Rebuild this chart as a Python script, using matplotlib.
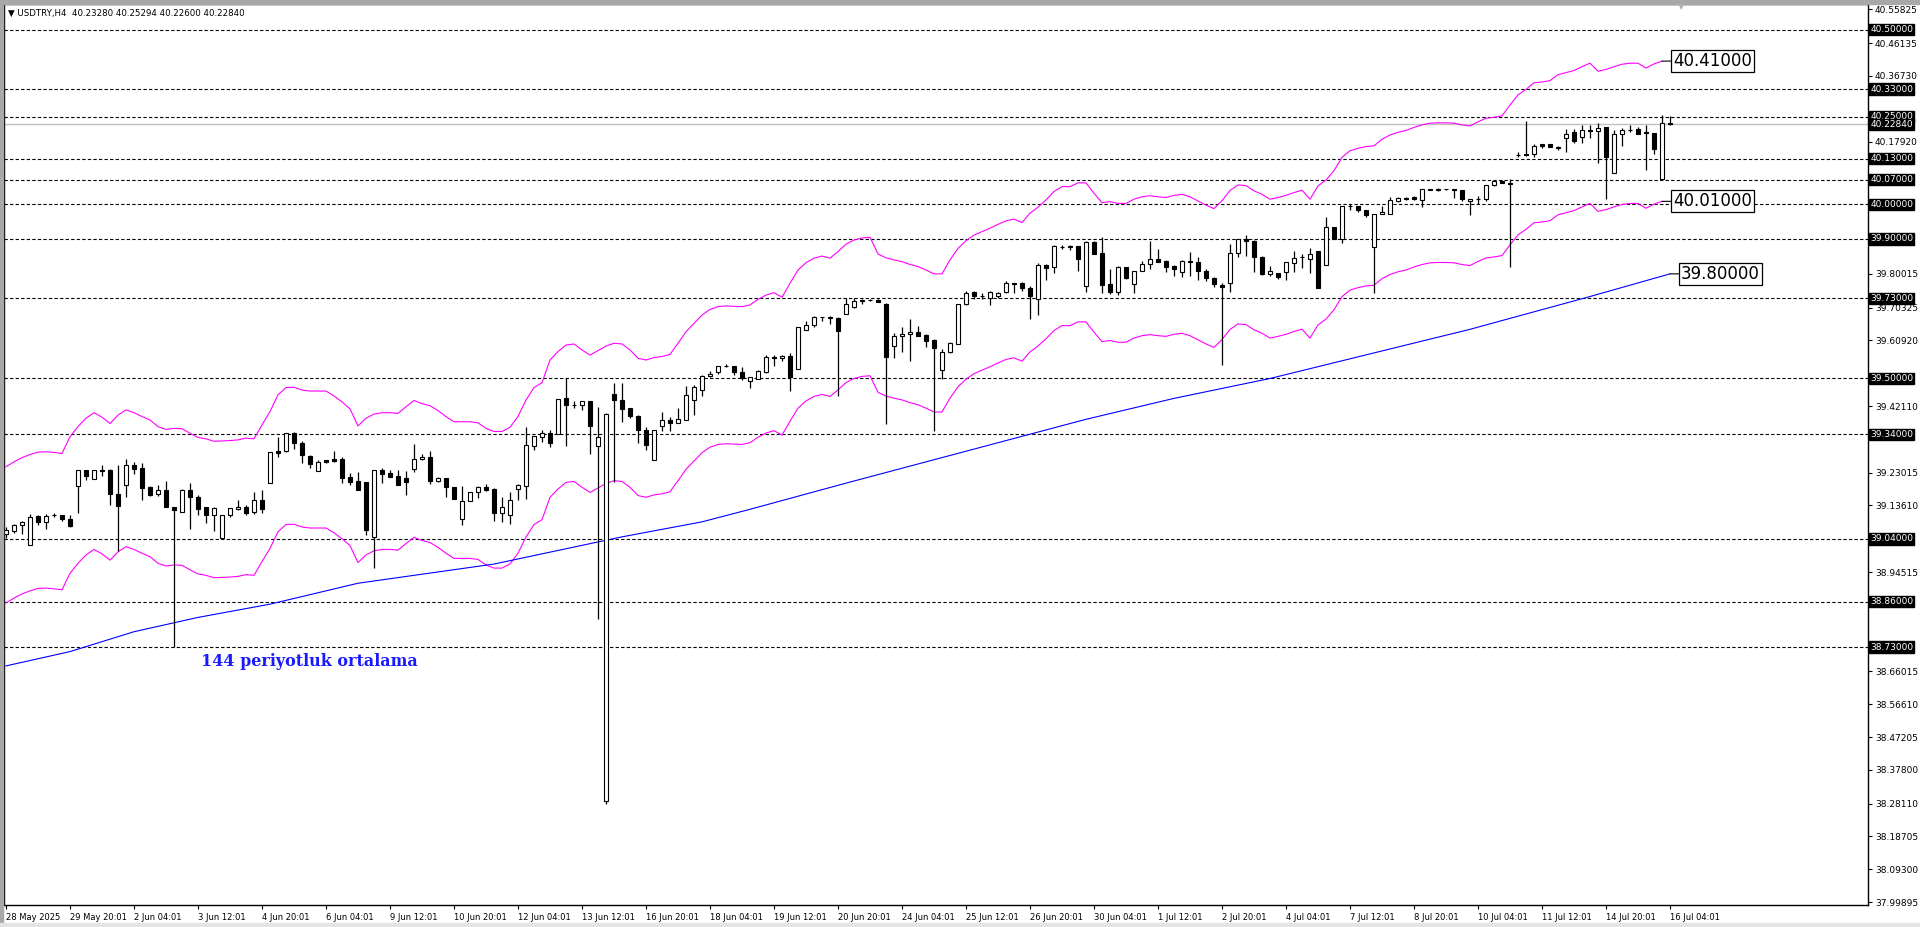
import matplotlib
matplotlib.use("Agg")
import matplotlib.pyplot as plt
from matplotlib.patches import Rectangle
from matplotlib.transforms import blended_transform_factory

# USDTRY H4 candles (bar 0 = 28 May 2025)
opens = [39.054, 39.064, 39.079, 39.022, 39.106, 39.090, 39.108, 39.108, 39.096, 39.191,
         39.237, 39.213, 39.239, 39.239, 39.169, 39.194, 39.251, 39.242, 39.189, 39.168,
         39.179, 39.131, 39.116, 39.180, 39.160, 39.131, 39.108, 39.044, 39.108, 39.127,
         39.131, 39.116, 39.151, 39.199, 39.291, 39.291, 39.343, 39.316, 39.278, 39.234,
         39.265, 39.268, 39.269, 39.217, 39.205, 39.203, 39.047, 39.237, 39.229, 39.220,
         39.214, 39.240, 39.268, 39.274, 39.205, 39.214, 39.188, 39.096, 39.148, 39.176,
         39.189, 39.183, 39.115, 39.108, 39.182, 39.193, 39.307, 39.333, 39.343, 39.340,
         39.444, 39.425, 39.423, 39.435, 39.307, 38.290, 39.456, 39.437, 39.414, 39.393,
         39.351, 39.265, 39.363, 39.380, 39.371, 39.381, 39.437, 39.466, 39.506, 39.518,
         39.535, 39.535, 39.518, 39.492, 39.498, 39.520, 39.562, 39.559, 39.564, 39.526,
         39.639, 39.652, 39.675, 39.676, 39.673, 39.684, 39.705, 39.725, 39.725, 39.725,
         39.715, 39.594, 39.622, 39.627, 39.633, 39.626, 39.610, 39.523, 39.577, 39.598,
         39.713, 39.747, 39.737, 39.730, 39.737, 39.747, 39.774, 39.773, 39.759, 39.727,
         39.826, 39.819, 39.878, 39.881, 39.879, 39.764, 39.891, 39.859, 39.770, 39.748,
         39.819, 39.770, 39.807, 39.827, 39.842, 39.837, 39.822, 39.804, 39.836, 39.833,
         39.808, 39.788, 39.767, 39.773, 39.859, 39.899, 39.894, 39.849, 39.801, 39.802,
         39.804, 39.832, 39.847, 39.844, 39.866, 39.824, 39.934, 39.901, 39.994, 39.994,
         39.984, 39.876, 39.971, 39.971, 40.010, 40.016, 40.020, 40.012, 40.042, 40.042,
         40.042, 40.042, 40.040, 40.008, 40.014, 40.016, 40.055, 40.067, 40.060, 40.142,
         40.143, 40.143, 40.171, 40.171, 40.165, 40.189, 40.206, 40.191, 40.212, 40.210,
         40.221, 40.088, 40.201, 40.212, 40.214, 40.206, 40.204, 40.073, 40.2328]
highs = [39.075, 39.082, 39.092, 39.111, 39.109, 39.111, 39.115, 39.109, 39.108, 39.239,
         39.239, 39.239, 39.253, 39.241, 39.252, 39.269, 39.260, 39.257, 39.192, 39.195,
         39.205, 39.131, 39.183, 39.199, 39.165, 39.132, 39.132, 39.109, 39.128, 39.152,
         39.136, 39.174, 39.180, 39.288, 39.333, 39.345, 39.346, 39.322, 39.280, 39.266,
         39.266, 39.292, 39.276, 39.228, 39.231, 39.203, 39.239, 39.242, 39.239, 39.239,
         39.234, 39.312, 39.283, 39.292, 39.217, 39.214, 39.188, 39.191, 39.176, 39.193,
         39.198, 39.185, 39.161, 39.176, 39.198, 39.360, 39.336, 39.352, 39.352, 39.440,
         39.500, 39.435, 39.435, 39.435, 39.417, 39.401, 39.486, 39.486, 39.414, 39.395,
         39.361, 39.351, 39.403, 39.389, 39.415, 39.479, 39.480, 39.510, 39.522, 39.536,
         39.541, 39.536, 39.533, 39.505, 39.524, 39.566, 39.566, 39.568, 39.572, 39.647,
         39.665, 39.679, 39.675, 39.679, 39.677, 39.731, 39.731, 39.727, 39.727, 39.727,
         39.717, 39.630, 39.649, 39.671, 39.651, 39.629, 39.613, 39.585, 39.604, 39.714,
         39.751, 39.751, 39.744, 39.751, 39.748, 39.780, 39.775, 39.776, 39.764, 39.832,
         39.827, 39.882, 39.884, 39.882, 39.880, 39.895, 39.893, 39.905, 39.815, 39.823,
         39.821, 39.807, 39.837, 39.894, 39.870, 39.839, 39.826, 39.840, 39.863, 39.847,
         39.813, 39.791, 39.774, 39.886, 39.901, 39.910, 39.896, 39.852, 39.823, 39.802,
         39.833, 39.866, 39.856, 39.874, 39.866, 39.962, 39.934, 39.994, 39.999, 39.994,
         39.984, 39.971, 39.995, 40.021, 40.020, 40.020, 40.022, 40.042, 40.044, 40.045,
         40.044, 40.044, 40.040, 40.016, 40.024, 40.056, 40.069, 40.068, 40.071, 40.149,
         40.239, 40.172, 40.171, 40.171, 40.168, 40.216, 40.216, 40.226, 40.226, 40.232,
         40.221, 40.212, 40.218, 40.227, 40.221, 40.227, 40.204, 40.255, 40.25294]
lows = [39.042, 39.058, 39.054, 39.022, 39.079, 39.069, 39.102, 39.092, 39.075, 39.115,
        39.210, 39.213, 39.221, 39.138, 39.006, 39.161, 39.227, 39.152, 39.164, 39.164,
        39.132, 38.730, 39.116, 39.069, 39.108, 39.087, 39.062, 39.042, 39.104, 39.123,
        39.109, 39.111, 39.113, 39.199, 39.276, 39.289, 39.297, 39.259, 39.243, 39.234,
        39.257, 39.261, 39.201, 39.196, 39.179, 39.050, 38.956, 39.201, 39.217, 39.195,
        39.165, 39.231, 39.266, 39.197, 39.203, 39.161, 39.155, 39.079, 39.148, 39.158,
        39.178, 39.091, 39.090, 39.084, 39.151, 39.155, 39.296, 39.319, 39.305, 39.340,
        39.307, 39.414, 39.410, 39.284, 38.810, 38.280, 39.204, 39.376, 39.386, 39.316,
        39.296, 39.265, 39.350, 39.350, 39.371, 39.380, 39.396, 39.451, 39.504, 39.513,
        39.532, 39.509, 39.495, 39.474, 39.498, 39.515, 39.536, 39.549, 39.465, 39.526,
        39.639, 39.649, 39.664, 39.655, 39.451, 39.684, 39.702, 39.714, 39.723, 39.718,
        39.370, 39.558, 39.577, 39.551, 39.623, 39.589, 39.350, 39.498, 39.574, 39.598,
        39.711, 39.729, 39.727, 39.712, 39.731, 39.746, 39.746, 39.750, 39.672, 39.683,
        39.781, 39.803, 39.872, 39.867, 39.809, 39.747, 39.858, 39.744, 39.741, 39.738,
        39.784, 39.744, 39.807, 39.815, 39.835, 39.806, 39.795, 39.790, 39.794, 39.783,
        39.780, 39.761, 39.538, 39.749, 39.849, 39.851, 39.806, 39.797, 39.795, 39.784,
        39.781, 39.805, 39.817, 39.803, 39.760, 39.824, 39.899, 39.888, 39.982, 39.977,
        39.964, 39.746, 39.971, 39.971, 40.006, 40.012, 40.012, 39.991, 40.039, 40.038,
        40.040, 40.017, 40.008, 39.968, 40.000, 40.008, 40.052, 40.060, 39.820, 40.134,
        40.138, 40.136, 40.161, 40.163, 40.155, 40.149, 40.176, 40.176, 40.189, 40.119,
        40.016, 40.088, 40.168, 40.206, 40.200, 40.098, 40.143, 40.073, 40.226]
closes = [39.066, 39.079, 39.088, 39.104, 39.089, 39.106, 39.108, 39.098, 39.077, 39.237,
          39.221, 39.237, 39.236, 39.170, 39.135, 39.251, 39.240, 39.187, 39.167, 39.179,
          39.132, 39.124, 39.180, 39.159, 39.127, 39.109, 39.128, 39.108, 39.128, 39.133,
          39.115, 39.151, 39.125, 39.288, 39.287, 39.343, 39.314, 39.280, 39.255, 39.262,
          39.260, 39.263, 39.216, 39.204, 39.179, 39.066, 39.237, 39.227, 39.218, 39.196,
          39.202, 39.268, 39.276, 39.205, 39.215, 39.190, 39.155, 39.148, 39.176, 39.188,
          39.181, 39.115, 39.133, 39.151, 39.194, 39.308, 39.335, 39.343, 39.316, 39.440,
          39.423, 39.425, 39.435, 39.363, 39.331, 39.398, 39.437, 39.413, 39.393, 39.353,
          39.310, 39.351, 39.380, 39.372, 39.383, 39.452, 39.475, 39.506, 39.512, 39.535,
          39.535, 39.518, 39.500, 39.503, 39.521, 39.561, 39.558, 39.565, 39.505, 39.647,
          39.652, 39.676, 39.675, 39.673, 39.635, 39.714, 39.722, 39.722, 39.725, 39.718,
          39.563, 39.622, 39.628, 39.634, 39.623, 39.608, 39.588, 39.577, 39.601, 39.714,
          39.744, 39.737, 39.737, 39.747, 39.746, 39.775, 39.772, 39.760, 39.737, 39.826,
          39.818, 39.881, 39.878, 39.876, 39.844, 39.891, 39.858, 39.769, 39.747, 39.820,
          39.789, 39.807, 39.827, 39.842, 39.835, 39.821, 39.815, 39.836, 39.833, 39.807,
          39.787, 39.772, 39.761, 39.859, 39.899, 39.895, 39.849, 39.800, 39.809, 39.790,
          39.833, 39.845, 39.847, 39.857, 39.760, 39.934, 39.899, 39.994, 39.994, 39.982,
          39.970, 39.971, 39.977, 40.012, 40.017, 40.016, 40.015, 40.042, 40.039, 40.039,
          40.042, 40.040, 40.014, 40.016, 40.014, 40.056, 40.066, 40.060, 40.057, 40.140,
          40.140, 40.168, 40.168, 40.163, 40.160, 40.202, 40.182, 40.212, 40.209, 40.217,
          40.136, 40.201, 40.212, 40.212, 40.202, 40.203, 40.157, 40.232, 40.2284]

# upper envelope (magenta), one value per bar; lower envelope is the same MA at -0.5 %
env_upper = [39.247, 39.261, 39.273, 39.282, 39.289, 39.290, 39.288, 39.285, 39.333, 39.362,
             39.386, 39.402, 39.389, 39.371, 39.395, 39.410, 39.402, 39.391, 39.381, 39.362,
             39.354, 39.357, 39.356, 39.343, 39.331, 39.327, 39.320, 39.321, 39.322, 39.324,
             39.329, 39.327, 39.367, 39.405, 39.453, 39.474, 39.475, 39.467, 39.464, 39.464,
             39.464, 39.450, 39.433, 39.413, 39.364, 39.386, 39.398, 39.402, 39.402, 39.400,
             39.419, 39.437, 39.428, 39.422, 39.408, 39.391, 39.376, 39.376, 39.376, 39.373,
             39.357, 39.348, 39.348, 39.360, 39.391, 39.438, 39.474, 39.488, 39.553, 39.577,
             39.596, 39.599, 39.582, 39.567, 39.580, 39.593, 39.601, 39.599, 39.582, 39.558,
             39.553, 39.560, 39.563, 39.569, 39.601, 39.634, 39.658, 39.682, 39.698, 39.706,
             39.708, 39.707, 39.706, 39.711, 39.727, 39.739, 39.746, 39.733, 39.773, 39.811,
             39.832, 39.845, 39.851, 39.845, 39.864, 39.885, 39.897, 39.903, 39.905, 39.857,
             39.846, 39.840, 39.835, 39.827, 39.821, 39.811, 39.800, 39.800, 39.840, 39.873,
             39.895, 39.911, 39.921, 39.931, 39.942, 39.952, 39.957, 39.947, 39.974, 39.991,
             40.012, 40.036, 40.050, 40.050, 40.061, 40.061, 40.031, 40.004, 40.007, 40.002,
             40.002, 40.014, 40.021, 40.024, 40.021, 40.019, 40.025, 40.028, 40.021, 40.009,
             39.997, 39.987, 40.010, 40.039, 40.055, 40.053, 40.038, 40.028, 40.014, 40.019,
             40.025, 40.033, 40.040, 40.014, 40.052, 40.069, 40.096, 40.134, 40.153, 40.160,
             40.165, 40.167, 40.186, 40.198, 40.206, 40.211, 40.220, 40.227, 40.232, 40.233,
             40.233, 40.232, 40.227, 40.224, 40.236, 40.246, 40.249, 40.253, 40.284, 40.313,
             40.329, 40.348, 40.350, 40.354, 40.371, 40.377, 40.383, 40.394, 40.404, 40.381,
             40.386, 40.394, 40.401, 40.404, 40.404, 40.390, 40.402, 40.410]
env_pct = 0.5

# 144 period moving average (blue), sampled at these bars
ma_bars = [0, 8, 16, 24, 33, 44, 61, 77, 87, 93, 105, 135, 146, 158, 183, 198, 208]
ma_vals = [38.676, 38.717, 38.774, 38.815, 38.853, 38.913, 38.968, 39.046, 39.089, 39.125,
           39.200, 39.383, 39.443, 39.500, 39.641, 39.735, 39.800]

levels = [40.50, 40.33, 40.25, 40.13, 40.07, 40.00, 39.90, 39.73, 39.50, 39.34, 39.04, 38.86, 38.73]
last_price = 40.2284

price_ticks = [40.55825, 40.46135, 40.36730, 40.17920, 39.80015, 39.70325, 39.60920, 39.42110,
               39.23015, 39.13610, 38.94515, 38.66015, 38.56610, 38.47205, 38.37800, 38.28110,
               38.18705, 38.09300, 37.99895]
time_labels = ['28 May 2025', '29 May 20:01', '2 Jun 04:01', '3 Jun 12:01', '4 Jun 20:01',
               '6 Jun 04:01', '9 Jun 12:01', '10 Jun 20:01', '12 Jun 04:01', '13 Jun 12:01',
               '16 Jun 20:01', '18 Jun 04:01', '19 Jun 12:01', '20 Jun 20:01', '24 Jun 04:01',
               '25 Jun 12:01', '26 Jun 20:01', '30 Jun 04:01', '1 Jul 12:01', '2 Jul 20:01',
               '4 Jul 04:01', '7 Jul 12:01', '8 Jul 20:01', '10 Jul 04:01', '11 Jul 12:01',
               '14 Jul 20:01', '16 Jul 04:01']

W, H = 1920, 927
fig = plt.figure(figsize=(W / 100, H / 100), dpi=100, facecolor='white')
ax = fig.add_axes([4 / W, 22 / H, 1864 / W, 901 / H])
ax.set_facecolor('white')

# thin grey window frame like the terminal
fig.patches.append(Rectangle((0, 1 - 4 / H), 1, 4 / H, transform=fig.transFigure, color='#a8a8a8', zorder=0))
fig.patches.append(Rectangle((0, 0), 3 / W, 1, transform=fig.transFigure, color='#a8a8a8', zorder=0))
fig.patches.append(Rectangle((0, 0), 1, 4 / H, transform=fig.transFigure, color='#e4e4e4', zorder=0))

idx = list(range(len(opens)))
body_low = [min(o, c) for o, c in zip(opens, closes)]
body_h = [max(abs(c - o), 0.0004) for o, c in zip(opens, closes)]
fills = ['white' if c >= o else 'black' for o, c in zip(opens, closes)]
ax.vlines(idx, lows, highs, color='black', linewidth=0.9, zorder=3)
ax.bar(idx, body_h, bottom=body_low, width=0.58, color=fills, edgecolor='black',
       linewidth=0.8, zorder=4)

# envelopes
env_idx = list(range(len(env_upper)))
env_lower = [u * (1 - env_pct / 100) / (1 + env_pct / 100) for u in env_upper]
ax.plot(env_idx, env_upper, color='#ff00ff', linewidth=0.8, zorder=2.6)
ax.plot(env_idx, env_lower, color='#ff00ff', linewidth=0.8, zorder=2.6)

# 144 MA
ax.plot(ma_bars, ma_vals, color='#0000ff', linewidth=0.8, zorder=2.6)

# horizontal levels
for lvl in levels:
    ax.axhline(lvl, color='black', linewidth=0.8, linestyle=(0, (3, 2)), zorder=2)
ax.axhline(last_price, color='#c0c0c0', linewidth=1.0, zorder=1.9)

ax.set_xlim(-0.25, 232.75)
ax.set_ylim(37.9905, 40.5737)

ax.yaxis.tick_right()
ax.set_yticks(price_ticks)
ax.set_yticklabels([f'{t:.5f}' for t in price_ticks])
ax.tick_params(axis='y', direction='out', length=3, width=0.8, labelsize=6.5, pad=2)
ax.set_xticks(list(range(0, 8 * len(time_labels), 8)))
ax.set_xticklabels(time_labels)
plt.setp(ax.get_xticklabels(), ha='left')
ax.tick_params(axis='x', direction='out', length=3, width=0.8, labelsize=6, pad=3)
for s in ax.spines.values():
    s.set_color('black')
    s.set_linewidth(1.0)

# price tags on the right scale
tr = blended_transform_factory(ax.transAxes, ax.transData)
for lvl in levels + [last_price]:
    ax.text(1.0012, lvl, f'{lvl:.5f}', transform=tr, ha='left', va='center', fontsize=6.5,
            color='white', clip_on=False, zorder=10,
            bbox=dict(boxstyle='square,pad=0.12', fc='black', ec='black'))

# callout labels at the line ends
callout_box = dict(boxstyle='square,pad=0.12', fc='white', ec='black', lw=0.9)
line_props = dict(arrowstyle='-', color='black', lw=0.8, shrinkA=0, shrinkB=0)
ax.annotate(f'{env_upper[-1]:.2f}000', xy=(env_idx[-1], env_upper[-1]), xytext=(8, 0),
            textcoords='offset points', ha='left', va='center', fontsize=12,
            bbox=callout_box, arrowprops=line_props, zorder=11)
ax.annotate(f'{env_lower[-1]:.2f}000', xy=(env_idx[-1], env_lower[-1]), xytext=(8, 0),
            textcoords='offset points', ha='left', va='center', fontsize=12,
            bbox=callout_box, arrowprops=line_props, zorder=11)
ax.annotate(f'{ma_vals[-1]:.5f}', xy=(ma_bars[-1], ma_vals[-1]), xytext=(8, 0),
            textcoords='offset points', ha='left', va='center', fontsize=12,
            bbox=callout_box, arrowprops=line_props, zorder=11)

ax.text(24.4, 38.690, '144 periyotluk ortalama', color='#1a1aff', fontsize=11.5,
        family='DejaVu Serif', fontweight='bold', ha='left', va='center', zorder=6)

fig.text(8 / W, 1 - 13 / H, '\u25bc USDTRY,H4  40.23280 40.25294 40.22600 40.22840',
         fontsize=6.2, ha='left', va='center', color='black')
fig.text(1681 / W, 1 - 7 / H, '\u25bc', fontsize=6, color='#b0b0b0', ha='center', va='center')

fig.savefig('out.png', dpi=100, facecolor='white')
